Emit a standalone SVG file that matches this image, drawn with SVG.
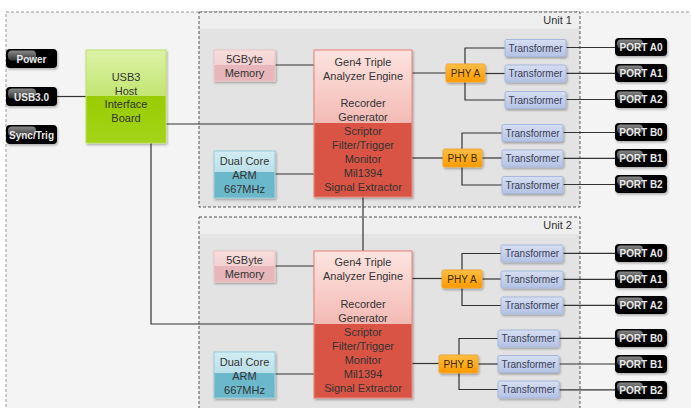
<svg xmlns="http://www.w3.org/2000/svg" width="691" height="408" viewBox="0 0 691 408">
<defs>
<linearGradient id="gGreen" x1="0" y1="0" x2="0" y2="1"><stop offset="0" stop-color="#dcf2a8"/><stop offset="1" stop-color="#a9d83a"/></linearGradient>
<linearGradient id="gGreenB" x1="0" y1="0" x2="0" y2="1"><stop offset="0" stop-color="#99cc00"/><stop offset="1" stop-color="#a3d41a"/></linearGradient>
<linearGradient id="gRed" x1="0" y1="0" x2="0" y2="1"><stop offset="0" stop-color="#fde4e1"/><stop offset="1" stop-color="#ea9088"/></linearGradient>
<linearGradient id="gMem" x1="0" y1="0" x2="0" y2="1"><stop offset="0" stop-color="#f8dddd"/><stop offset="1" stop-color="#eec4c6"/></linearGradient>
<linearGradient id="gArm" x1="0" y1="0" x2="0" y2="1"><stop offset="0" stop-color="#d2ecf2"/><stop offset="1" stop-color="#9fd2de"/></linearGradient>
<linearGradient id="gPhy" x1="0" y1="0" x2="0" y2="1"><stop offset="0" stop-color="#ffbe45"/><stop offset="1" stop-color="#ff9a00"/></linearGradient>
<linearGradient id="gTr" x1="0" y1="0" x2="0" y2="1"><stop offset="0" stop-color="#d6def2"/><stop offset="1" stop-color="#b4c2e4"/></linearGradient>
<linearGradient id="gGloss" x1="0" y1="0" x2="0" y2="1"><stop offset="0" stop-color="#8a8a8a"/><stop offset="1" stop-color="#333"/></linearGradient>
<filter id="sh" x="-20%" y="-20%" width="140%" height="140%"><feDropShadow dx="1" dy="1.5" stdDeviation="1" flood-color="#000" flood-opacity="0.3"/></filter>
</defs>
<style>
text{font-family:"Liberation Sans",Arial,sans-serif;font-size:11px;fill:#333;text-anchor:middle}
.btn text{font-weight:bold;font-size:10px;fill:#e8e8e8}
.tr text{font-size:10px;fill:#3a3f55}
.phy text{font-size:10px;fill:#3a2a00}
.conn path{fill:none;stroke:#333;stroke-width:1.2}
.unitlbl{text-anchor:end;font-size:11px}
</style>
<rect x="6" y="12" width="700" height="410" fill="#f4f4f4" stroke="#9a9a9a" stroke-dasharray="3,2"/>
<g id="unit1">
<rect x="199" y="12" width="381" height="195" fill="#e3e3e3"/>
<rect x="199" y="12" width="381" height="16.5" fill="#efefef"/>
<rect x="199" y="12" width="381" height="195" fill="none" stroke="#555" stroke-dasharray="3,2"/>
<text class="unitlbl" x="572" y="24">Unit 1</text>
</g>
<g id="unit2">
<rect x="199" y="217" width="381" height="205" fill="#e3e3e3"/>
<rect x="199" y="217" width="381" height="17" fill="#efefef"/>
<rect x="199" y="217" width="381" height="205" fill="none" stroke="#555" stroke-dasharray="3,2"/>
<text class="unitlbl" x="572" y="229">Unit 2</text>
</g>
<g id="connectors" class="conn">
<path d="M57 96.5H86"/>
<path d="M166 124H314"/>
<path d="M151 143V324H314"/>
<path d="M275 65H314"/>
<path d="M275 174H314"/>
<path d="M363 197V251"/>
<path d="M412 73H446"/>
<path d="M412 158H443"/>
<path d="M505 48H465V100H505"/>
<path d="M485 73.5H505"/>
<path d="M502 133H462V185H502"/>
<path d="M482 158H502"/>
<path d="M566 47.5H615"/><path d="M566 73.3H615"/><path d="M566 99.5H615"/>
<path d="M563 132.5H615"/><path d="M563 158.3H615"/><path d="M563 184.5H615"/>
<path d="M275 266H314"/>
<path d="M275 374H314"/>
<path d="M412 278.5H442"/>
<path d="M412 363.5H439"/>
<path d="M501 253.5H462V305.5H501"/>
<path d="M482 279H501"/>
<path d="M498 338.5H459V389.5H498"/>
<path d="M478 364H498"/>
<path d="M563 253.3H615"/><path d="M563 279.3H615"/><path d="M563 305.3H615"/>
<path d="M559 338.3H615"/><path d="M559 364H615"/><path d="M559 389.8H615"/>
</g>
<g id="btn-power" class="btn"><rect x="6" y="49" width="51" height="19" rx="4" fill="#050505" filter="url(#sh)"/><rect x="8" y="50.5" width="28" height="10" rx="4" fill="url(#gGloss)"/><text x="31.5" y="62.5">Power</text></g>
<g id="btn-usb" class="btn"><rect x="6" y="87" width="51" height="19" rx="4" fill="#050505" filter="url(#sh)"/><rect x="8" y="88.5" width="28" height="10" rx="4" fill="url(#gGloss)"/><text x="31.5" y="100.5">USB3.0</text></g>
<g id="btn-sync" class="btn"><rect x="6" y="125" width="51" height="19" rx="4" fill="#050505" filter="url(#sh)"/><rect x="8" y="126.5" width="28" height="10" rx="4" fill="url(#gGloss)"/><text x="31.5" y="138.5">Sync/Trig</text></g>
<g id="usb-board"><rect x="86" y="50" width="80" height="93" fill="url(#gGreen)" stroke="#bfe36a" filter="url(#sh)"/><rect x="86.5" y="96" width="79" height="46.5" fill="url(#gGreenB)"/><text x="126" y="81">USB3</text><text x="126" y="95">Host</text><text x="126" y="108">Interface</text><text x="126" y="122">Board</text></g>
<g id="mem1"><rect x="214" y="50" width="61" height="31" fill="url(#gMem)" stroke="#ecc6c6" filter="url(#sh)"/><rect x="214.5" y="65" width="60" height="15.5" fill="#e6b6ba"/><text x="244.5" y="63">5GByte</text><text x="244.5" y="77">Memory</text></g>
<g id="gen4-1"><rect x="314" y="50" width="98" height="147" fill="url(#gRed)" stroke="#ea8078" filter="url(#sh)"/><rect x="314.5" y="123" width="97" height="73.5" fill="#d95444"/><text x="363" y="66">Gen4 Triple</text><text x="363" y="80">Analyzer Engine</text><text x="363" y="107">Recorder</text><text x="363" y="121">Generator</text><text x="363" y="135">Scriptor</text><text x="363" y="149">Filter/Trigger</text><text x="363" y="163">Monitor</text><text x="363" y="177">Mil1394</text><text x="363" y="191">Signal Extractor</text></g>
<g id="arm1"><rect x="214" y="151" width="61" height="47" fill="url(#gArm)" stroke="#98cdd9" filter="url(#sh)"/><rect x="214.5" y="172" width="60" height="25.5" fill="#6cb8cb"/><text x="244.5" y="165">Dual Core</text><text x="244.5" y="179">ARM</text><text x="244.5" y="193">667MHz</text></g>
<g id="phya1" class="phy"><rect x="446" y="64" width="39" height="18" rx="1.5" fill="url(#gPhy)" stroke="#f0a838" filter="url(#sh)"/><text x="465.5" y="77">PHY A</text></g>
<g id="phyb1" class="phy"><rect x="443" y="149" width="39" height="18" rx="1.5" fill="url(#gPhy)" stroke="#f0a838" filter="url(#sh)"/><text x="462.5" y="162">PHY B</text></g>
<g id="tra0-1" class="tr"><rect x="505" y="39.5" width="61" height="17" rx="1.5" fill="url(#gTr)" stroke="#a9b8dc" filter="url(#sh)"/><text x="535.5" y="51.5">Transformer</text></g>
<g id="tra1-1" class="tr"><rect x="505" y="65" width="61" height="17" rx="1.5" fill="url(#gTr)" stroke="#a9b8dc" filter="url(#sh)"/><text x="535.5" y="77">Transformer</text></g>
<g id="tra2-1" class="tr"><rect x="505" y="91.5" width="61" height="17" rx="1.5" fill="url(#gTr)" stroke="#a9b8dc" filter="url(#sh)"/><text x="535.5" y="103.5">Transformer</text></g>
<g id="trb0-1" class="tr"><rect x="502" y="124.5" width="61" height="17" rx="1.5" fill="url(#gTr)" stroke="#a9b8dc" filter="url(#sh)"/><text x="532.5" y="136.5">Transformer</text></g>
<g id="trb1-1" class="tr"><rect x="502" y="150" width="61" height="17" rx="1.5" fill="url(#gTr)" stroke="#a9b8dc" filter="url(#sh)"/><text x="532.5" y="162">Transformer</text></g>
<g id="trb2-1" class="tr"><rect x="502" y="176.5" width="61" height="17" rx="1.5" fill="url(#gTr)" stroke="#a9b8dc" filter="url(#sh)"/><text x="532.5" y="188.5">Transformer</text></g>
<g id="porta0-1" class="btn"><rect x="615" y="38" width="52" height="18" rx="4" fill="#050505" filter="url(#sh)"/><rect x="617" y="39.5" width="26" height="9" rx="4" fill="url(#gGloss)"/><text x="641" y="51">PORT A0</text></g>
<g id="porta1-1" class="btn"><rect x="615" y="64" width="52" height="18" rx="4" fill="#050505" filter="url(#sh)"/><rect x="617" y="65.5" width="26" height="9" rx="4" fill="url(#gGloss)"/><text x="641" y="77">PORT A1</text></g>
<g id="porta2-1" class="btn"><rect x="615" y="90" width="52" height="18" rx="4" fill="#050505" filter="url(#sh)"/><rect x="617" y="91.5" width="26" height="9" rx="4" fill="url(#gGloss)"/><text x="641" y="103">PORT A2</text></g>
<g id="portb0-1" class="btn"><rect x="615" y="123" width="52" height="18" rx="4" fill="#050505" filter="url(#sh)"/><rect x="617" y="124.5" width="26" height="9" rx="4" fill="url(#gGloss)"/><text x="641" y="136">PORT B0</text></g>
<g id="portb1-1" class="btn"><rect x="615" y="149" width="52" height="18" rx="4" fill="#050505" filter="url(#sh)"/><rect x="617" y="150.5" width="26" height="9" rx="4" fill="url(#gGloss)"/><text x="641" y="162">PORT B1</text></g>
<g id="portb2-1" class="btn"><rect x="615" y="175" width="52" height="18" rx="4" fill="#050505" filter="url(#sh)"/><rect x="617" y="176.5" width="26" height="9" rx="4" fill="url(#gGloss)"/><text x="641" y="188">PORT B2</text></g>
<g id="mem2"><rect x="214" y="251" width="61" height="31" fill="url(#gMem)" stroke="#ecc6c6" filter="url(#sh)"/><rect x="214.5" y="266" width="60" height="15.5" fill="#e6b6ba"/><text x="244.5" y="264">5GByte</text><text x="244.5" y="278">Memory</text></g>
<g id="gen4-2"><rect x="314" y="251" width="98" height="147" fill="url(#gRed)" stroke="#ea8078" filter="url(#sh)"/><rect x="314.5" y="324" width="97" height="73.5" fill="#d95444"/><text x="363" y="266">Gen4 Triple</text><text x="363" y="280">Analyzer Engine</text><text x="363" y="308">Recorder</text><text x="363" y="322">Generator</text><text x="363" y="336">Scriptor</text><text x="363" y="350">Filter/Trigger</text><text x="363" y="364">Monitor</text><text x="363" y="378">Mil1394</text><text x="363" y="392">Signal Extractor</text></g>
<g id="arm2"><rect x="214" y="352" width="61" height="46" fill="url(#gArm)" stroke="#98cdd9" filter="url(#sh)"/><rect x="214.5" y="373" width="60" height="24.5" fill="#6cb8cb"/><text x="244.5" y="366">Dual Core</text><text x="244.5" y="380">ARM</text><text x="244.5" y="394">667MHz</text></g>
<g id="phya2" class="phy"><rect x="442" y="270" width="40" height="18" rx="1.5" fill="url(#gPhy)" stroke="#f0a838" filter="url(#sh)"/><text x="462" y="283">PHY A</text></g>
<g id="phyb2" class="phy"><rect x="439" y="355" width="39" height="18" rx="1.5" fill="url(#gPhy)" stroke="#f0a838" filter="url(#sh)"/><text x="458.5" y="368">PHY B</text></g>
<g id="tra0-2" class="tr"><rect x="501" y="245" width="62" height="17" rx="1.5" fill="url(#gTr)" stroke="#a9b8dc" filter="url(#sh)"/><text x="532" y="257">Transformer</text></g>
<g id="tra1-2" class="tr"><rect x="501" y="271" width="62" height="17" rx="1.5" fill="url(#gTr)" stroke="#a9b8dc" filter="url(#sh)"/><text x="532" y="283">Transformer</text></g>
<g id="tra2-2" class="tr"><rect x="501" y="297" width="62" height="17" rx="1.5" fill="url(#gTr)" stroke="#a9b8dc" filter="url(#sh)"/><text x="532" y="309">Transformer</text></g>
<g id="trb0-2" class="tr"><rect x="498" y="330" width="61" height="17" rx="1.5" fill="url(#gTr)" stroke="#a9b8dc" filter="url(#sh)"/><text x="528.5" y="342">Transformer</text></g>
<g id="trb1-2" class="tr"><rect x="498" y="355.5" width="61" height="17" rx="1.5" fill="url(#gTr)" stroke="#a9b8dc" filter="url(#sh)"/><text x="528.5" y="367.5">Transformer</text></g>
<g id="trb2-2" class="tr"><rect x="498" y="381" width="61" height="17" rx="1.5" fill="url(#gTr)" stroke="#a9b8dc" filter="url(#sh)"/><text x="528.5" y="393">Transformer</text></g>
<g id="porta0-2" class="btn"><rect x="615" y="244" width="52" height="18" rx="4" fill="#050505" filter="url(#sh)"/><rect x="617" y="245.5" width="26" height="9" rx="4" fill="url(#gGloss)"/><text x="641" y="257">PORT A0</text></g>
<g id="porta1-2" class="btn"><rect x="615" y="270" width="52" height="18" rx="4" fill="#050505" filter="url(#sh)"/><rect x="617" y="271.5" width="26" height="9" rx="4" fill="url(#gGloss)"/><text x="641" y="283">PORT A1</text></g>
<g id="porta2-2" class="btn"><rect x="615" y="296" width="52" height="18" rx="4" fill="#050505" filter="url(#sh)"/><rect x="617" y="297.5" width="26" height="9" rx="4" fill="url(#gGloss)"/><text x="641" y="309">PORT A2</text></g>
<g id="portb0-2" class="btn"><rect x="615" y="329" width="52" height="18" rx="4" fill="#050505" filter="url(#sh)"/><rect x="617" y="330.5" width="26" height="9" rx="4" fill="url(#gGloss)"/><text x="641" y="342">PORT B0</text></g>
<g id="portb1-2" class="btn"><rect x="615" y="355" width="52" height="18" rx="4" fill="#050505" filter="url(#sh)"/><rect x="617" y="356.5" width="26" height="9" rx="4" fill="url(#gGloss)"/><text x="641" y="368">PORT B1</text></g>
<g id="portb2-2" class="btn"><rect x="615" y="381" width="52" height="18" rx="4" fill="#050505" filter="url(#sh)"/><rect x="617" y="382.5" width="26" height="9" rx="4" fill="url(#gGloss)"/><text x="641" y="394">PORT B2</text></g>
</svg>
